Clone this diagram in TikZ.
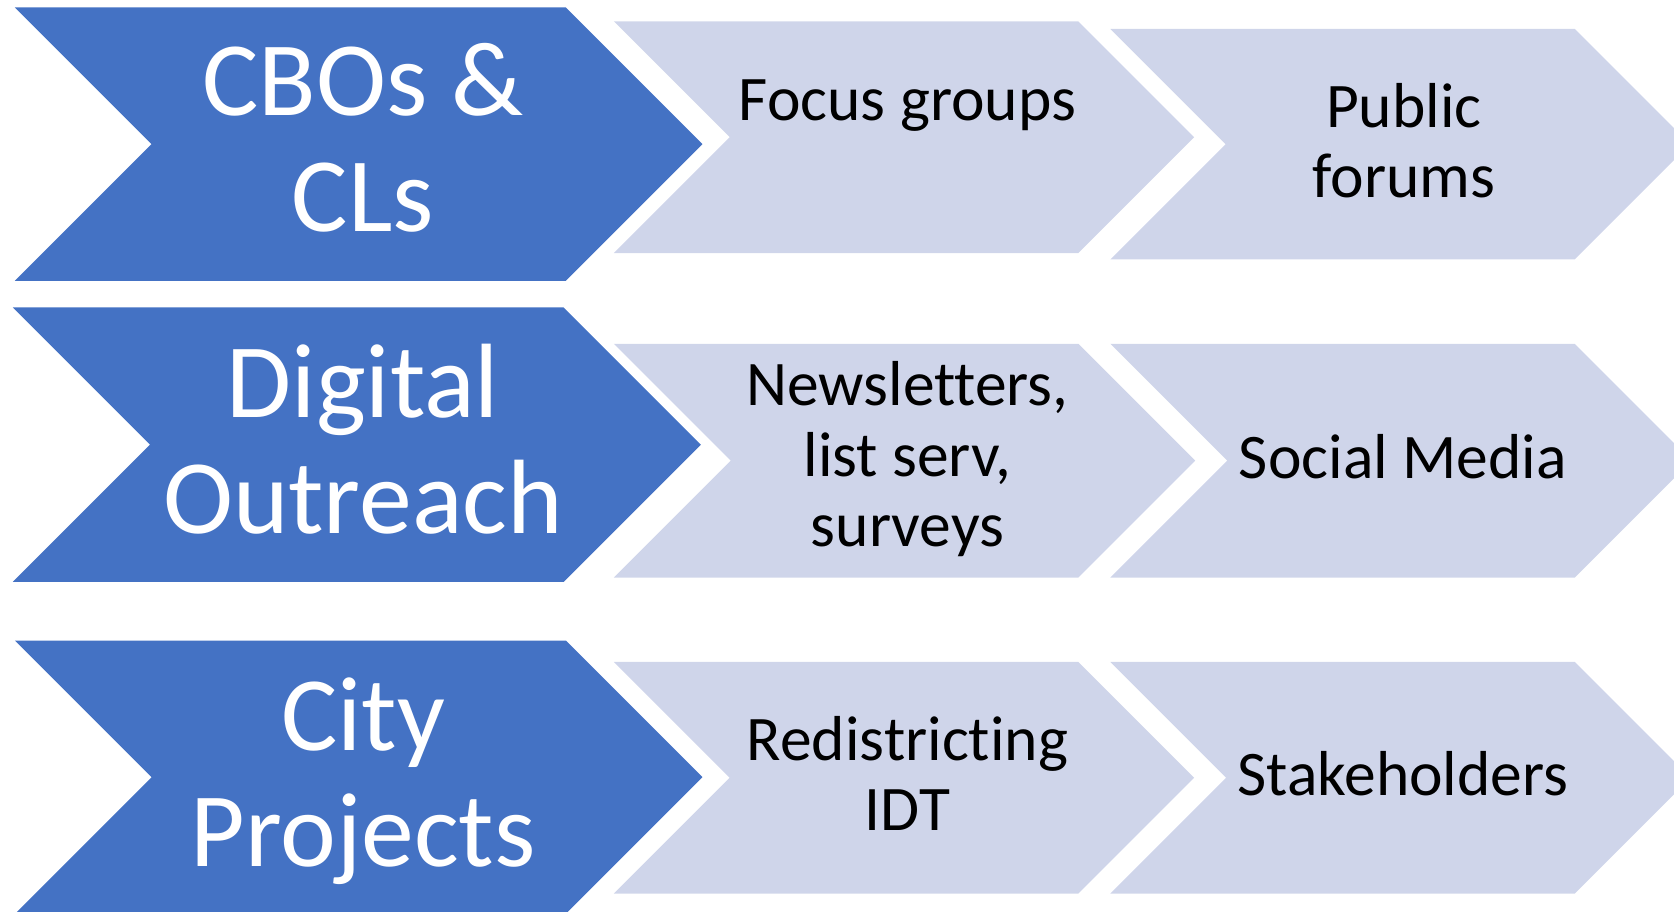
\documentclass[tikz,border=0pt]{standalone}
\usepackage{fontspec}
\setmainfont{Carlito}[Ligatures=NoCommon]
\usetikzlibrary{positioning, calc}
\definecolor{darkblue}{HTML}{4472C4}
\definecolor{paleblue}{HTML}{CFD5EA}

\begin{document}
\begin{tikzpicture}[x=1pt, y=-1pt,
      head/.style={text=white, align=center, inner sep=0pt, anchor=base, font=\fontsize{99}{109}\selectfont},
      item/.style={text=black, align=center, inner sep=0pt, anchor=base, font=\fontsize{59.5}{66}\selectfont}
  ]
  \useasboundingbox (0,0) rectangle (1568,854);

  \newcommand{\chevronshape}[5]{%
    \fill[#5] (#1,#2) -- (#4,#2) -- ({#4+(#3-#2)/2},{(#2+#3)/2}) -- (#4,#3)
      -- (#1,#3) -- ({#1+(#3-#2)/2},{(#2+#3)/2}) -- cycle;
  }

  \foreach \l/\t/\b/\r in {14/7/263/530, 12/288/545/528, 14/600/856/530} {
      \chevronshape{\l}{\t}{\b}{\r}{darkblue}
  }
  \foreach \l/\t/\b/\r in {575/20/237/1010, 1040/27/243/1475, 575/322/541/1010,
                           1040/322/541/1475, 575/620/837/1010, 1040/620/837/1475} {
      \chevronshape{\l}{\t}{\b}{\r}{paleblue}
  }

  % base anchor sits on the last line
  \node[head] (cbo) at (340,217) {CBOs \&\\CLs};
  \node[head] (digital) at (340,500) {Digital\\Outreach};
  \node[head] (city) at (340,812) {City\\Projects};

  \node[item] (focus) at (850,113) {Focus groups};
  \node[item] (forums) at (1315,185) {Public\\forums};
  \node[item] (news) at (850,512) {Newsletters,\\list serv,\\surveys};
  \node[item] (social) at (1314,448) {Social Media};
  \node[item] (redist) at (850,778) {Redistricting\\IDT};
  \node[item] (stake) at (1314,745) {Stakeholders};
\end{tikzpicture}
\end{document}
